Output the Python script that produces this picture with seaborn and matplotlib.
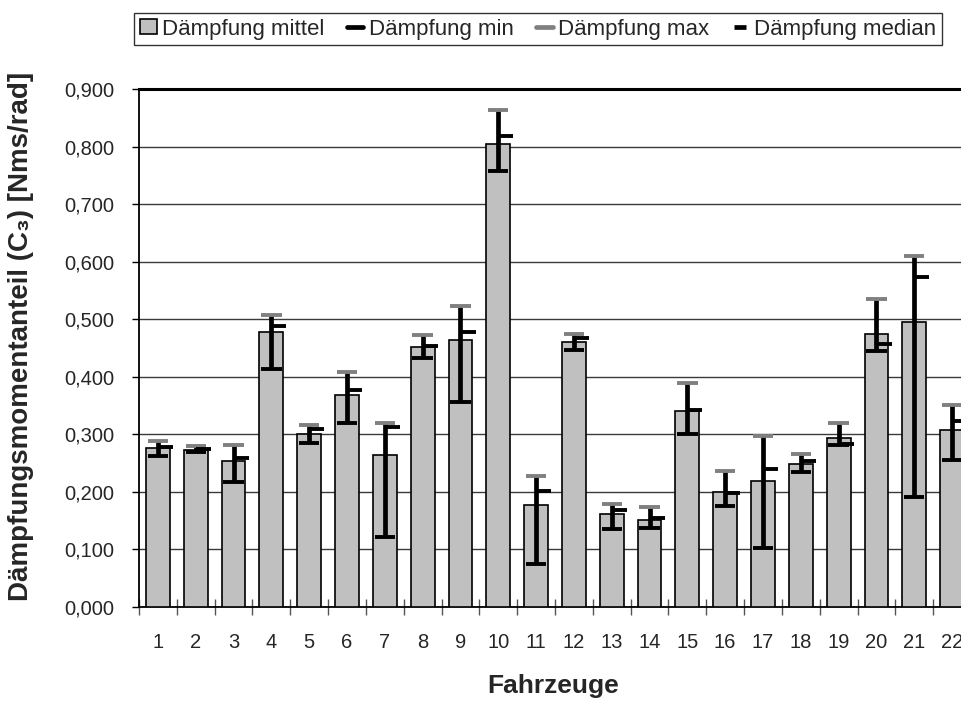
import matplotlib
matplotlib.use("Agg")
import matplotlib.pyplot as plt
import seaborn as sns
import pandas as pd
import numpy as np
from matplotlib.lines import Line2D
from matplotlib.patches import Patch
from matplotlib.ticker import FixedLocator, FuncFormatter

# Damping moment share per vehicle [Nms/rad]
fahrzeuge = [str(i) for i in range(1, 23)]
mittel = [0.276, 0.273, 0.254, 0.477, 0.301, 0.369, 0.264, 0.451, 0.464, 0.804, 0.178,
          0.461, 0.162, 0.152, 0.340, 0.200, 0.219, 0.248, 0.293, 0.474, 0.496, 0.308]
minimum = [0.262, 0.269, 0.217, 0.414, 0.285, 0.320, 0.121, 0.433, 0.357, 0.758, 0.075,
           0.447, 0.135, 0.138, 0.300, 0.176, 0.103, 0.234, 0.281, 0.444, 0.191, 0.255]
maximum = [0.288, 0.279, 0.281, 0.507, 0.316, 0.409, 0.320, 0.473, 0.523, 0.863, 0.227,
           0.474, 0.179, 0.173, 0.390, 0.237, 0.297, 0.265, 0.320, 0.536, 0.609, 0.351]
median = [0.278, 0.275, 0.259, 0.489, 0.310, 0.377, 0.313, 0.453, 0.478, 0.819, 0.202,
          0.468, 0.169, 0.155, 0.342, 0.198, 0.240, 0.253, 0.284, 0.457, 0.574, 0.324]
y_ticks = [0.0, 0.1, 0.2, 0.3, 0.4, 0.5, 0.6, 0.7, 0.8, 0.9]

sns.set_style("white")
plt.rcParams["font.family"] = ["Liberation Sans", "DejaVu Sans"]

df = pd.DataFrame({"Fahrzeug": fahrzeuge, "mittel": mittel})

W, H = 962, 706
fig = plt.figure(figsize=(W / 100, H / 100), dpi=100)
ax = fig.add_axes([139 / W, 99 / H, 832 / W, 518 / H])

sns.barplot(data=df, x="Fahrzeug", y="mittel", color="#C0C0C0", saturation=1,
            width=0.63, edgecolor="black", linewidth=1.2, ax=ax, zorder=3)

xs = np.arange(len(fahrzeuge))
ax.vlines(xs, minimum, maximum, color="black", lw=3.4, zorder=4)
ax.hlines(minimum, xs - 0.27, xs + 0.27, color="black", lw=2.8, zorder=5)
ax.hlines(maximum, xs - 0.27, xs + 0.27, color="#808080", lw=2.8, zorder=5)
ax.hlines(median, xs, xs + 0.40, color="black", lw=2.8, zorder=5)

ax.set_xlim(-0.5, len(fahrzeuge) - 0.5)
ax.set_ylim(0, 0.9)
ax.set_axisbelow(True)
ax.yaxis.grid(True, color="#3a3a3a", lw=1.0)
ax.xaxis.grid(False)

ax.yaxis.set_major_locator(FixedLocator(y_ticks))
ax.yaxis.set_major_formatter(FuncFormatter(lambda v, p: f"{v:.3f}".replace(".", ",")))
ax.tick_params(axis="y", which="major", left=True, length=5, width=1, color="black",
               pad=13, labelsize=14.5)
ax.tick_params(axis="x", which="major", bottom=True, length=0, pad=19, labelsize=14.5)
ax.xaxis.set_minor_locator(FixedLocator(np.arange(-0.5, len(fahrzeuge), 1.0)))
ax.tick_params(axis="x", which="minor", bottom=True, length=12, width=1,
               direction="inout", color="#555555")

for side in ["left", "bottom", "right"]:
    ax.spines[side].set_color("black")
    ax.spines[side].set_linewidth(1.3)
ax.spines["top"].set_color("black")
ax.spines["top"].set_linewidth(2.2)

ax.set_xlabel("Fahrzeuge", fontsize=19, fontweight="bold", va="center")
ax.xaxis.set_label_coords(0.4976, -0.1525)
ax.set_ylabel("Dämpfungsmomentanteil (C₃) [Nms/rad]", fontsize=20,
              fontweight="bold", va="center", ha="center")
ax.yaxis.set_label_coords(-0.142, 0.523)

handles = [
    Patch(facecolor="#C0C0C0", edgecolor="black", linewidth=1.2),
    Line2D([], [], color="black", lw=3.4),
    Line2D([], [], color="#808080", lw=3.4),
    Line2D([], [], color="black", marker="_", ms=8, mew=3.4, ls="none"),
]
labels = ["Dämpfung mittel", "Dämpfung min", "Dämpfung max", "Dämpfung median"]
leg = fig.legend(handles, labels, loc="center", bbox_to_anchor=(538 / W, 1 - 29 / H),
                 ncol=4, frameon=True, fancybox=False, edgecolor="black",
                 fontsize=16, handlelength=0.75, handleheight=0.65, handletextpad=0.25,
                 columnspacing=1.0, borderpad=0.25, borderaxespad=0)
leg.get_frame().set_linewidth(1.0)

fig.savefig("out.png", dpi=100)
